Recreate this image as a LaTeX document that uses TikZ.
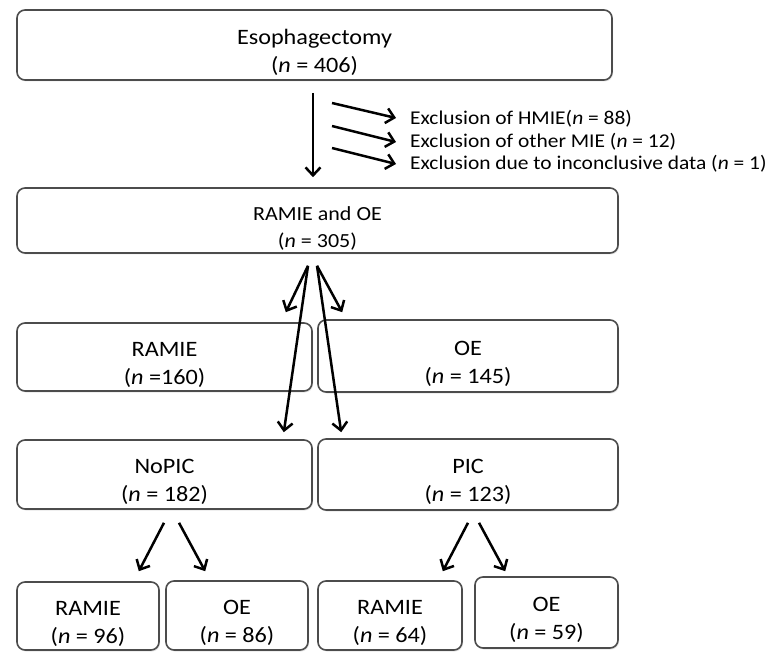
\documentclass[tikz,border=0pt]{standalone}
\usepackage{fontspec}
\setmainfont{Carlito}[FakeStretch=1.1]
\usetikzlibrary{arrows.meta,shadows,positioning}

\newcommand{\lift}{\rule{0pt}{30pt}}

\begin{document}
\begin{tikzpicture}[x=1pt,y=-1pt,
  box/.style={rectangle, rounded corners=8pt, draw=black!70, line width=1.6pt,
    fill=white, align=center, inner sep=0pt, text=black,
    font=\fontsize{22}{28}\selectfont,
    drop shadow={shadow xshift=1pt, shadow yshift=-1.5pt, opacity=0.2}},
  excl/.style={anchor=west, inner sep=0pt, text=black, font=\fontsize{19.5}{22}\selectfont},
  arr/.style={line width=2.5pt, -{Straight Barb[length=8pt,width=15pt]}}
  ]
  \useasboundingbox (0,0) rectangle (774,652);

  \node[box, minimum width=595pt, minimum height=70pt] (esoph) at (314.5,45)
    {\lift Esophagectomy\\(\textit{n} = 406)};
  \node[box, minimum width=601pt, minimum height=65pt,
    font=\fontsize{20}{27}\selectfont] (all) at (317.5,220.5)
    {\lift RAMIE and OE\\(\textit{n} = 305)};

  \node[box, minimum width=295pt, minimum height=68pt] (ramieA) at (164.5,357)
    {\lift RAMIE\\(\textit{n} =160)};
  \node[box, minimum width=300pt, minimum height=72pt] (oeA) at (468,356)
    {\lift OE\\(\textit{n} = 145)};

  \node[box, minimum width=295pt, minimum height=69pt] (nopic) at (164.5,474.5)
    {\lift NoPIC\\(\textit{n} = 182)};
  \node[box, minimum width=300pt, minimum height=71pt] (pic) at (468,474.5)
    {\lift PIC\\(\textit{n} = 123)};

  \node[box, minimum width=142pt, minimum height=68pt] (ramieN) at (88,616)
    {\lift RAMIE\\(\textit{n} = 96)};
  \node[box, minimum width=142pt, minimum height=69pt] (oeN) at (237,615.5)
    {\lift OE\\(\textit{n} = 86)};
  \node[box, minimum width=144pt, minimum height=69pt] (ramieP) at (390,615.5)
    {\lift RAMIE\\(\textit{n} = 64)};
  \node[box, minimum width=143pt, minimum height=71pt] (oeP) at (546.5,612.5)
    {\lift OE\\(\textit{n} = 59)};

  % exclusions
  \node[excl] (ex1) at (410,119) {Exclusion of HMIE(\textit{n} = 88)};
  \node[excl] (ex2) at (410,142) {Exclusion of other MIE (\textit{n} = 12)};
  \node[excl] (ex3) at (410,164) {Exclusion due to inconclusive data (\textit{n} = 1)};

  \draw[arr] ([shift={(-1.5,12)}]esoph.south) -- ([shift={(-4.5,-10)}]all.north);
  \draw[arr] ([shift={(-78,-16)}]ex1.west) -- ([shift={(-14,-1)}]ex1.west);
  \draw[arr] ([shift={(-78,-16)}]ex2.west) -- ([shift={(-14,0)}]ex2.west);
  \draw[arr] ([shift={(-78,-16)}]ex3.west) -- ([shift={(-14,0)}]ex3.west);

  \draw[arr] ([shift={(-9.5,12)}]all.south) -- ([shift={(-27,-10)}]ramieA.north east);
  \draw[arr] ([shift={(-0.5,12)}]all.south) -- ([shift={(25,-7)}]oeA.north west);
  \draw[arr] ([shift={(-9.5,12)}]all.south) -- ([shift={(-29,-7)}]nopic.north east);
  \draw[arr] ([shift={(-0.5,12)}]all.south) -- ([shift={(24,-6)}]pic.north west);

  \draw[arr] ([shift={(-0.5,13)}]nopic.south) -- ([shift={(-21,-10)}]ramieN.north east);
  \draw[arr] ([shift={(14.5,13)}]nopic.south) -- ([shift={(40,-9)}]oeN.north west);
  \draw[arr] ([shift={(0,12)}]pic.south) -- ([shift={(-20,-9)}]ramieP.north east);
  \draw[arr] ([shift={(11,12)}]pic.south) -- ([shift={(31,-5)}]oeP.north west);
\end{tikzpicture}
\end{document}
